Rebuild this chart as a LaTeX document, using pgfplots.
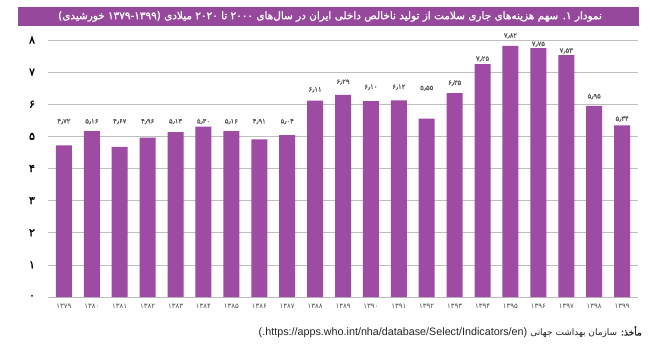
\documentclass[border=0pt]{standalone}
\usepackage{fontspec}
\usepackage{pgfplots}
\pgfplotsset{compat=1.18}
\setmainfont{Liberation Sans}
\newfontfamily\arabicfont[Script=Arabic]{DejaVu Sans}
\newfontfamily\arabicbold[Script=Arabic, FakeBold=1.6]{DejaVu Sans}
\TeXXeTstate=1
\definecolor{barc}{RGB}{158,75,163}
\definecolor{bannerc}{RGB}{150,72,156}
\definecolor{gridc}{RGB}{190,190,190}
\begin{document}
\begin{tikzpicture}[x=1bp,y=1bp]
\path[fill=white] (0,0) rectangle (650,353);
\fill[bannerc] (18,327) rectangle (639,346);
\node[text=white, inner sep=0pt, font=\arabicbold\fontsize{10.5}{12}\selectfont] at (330,336.5) {\beginR نمودار ۱. سهم هزینه‌های جاری سلامت از تولید ناخالص داخلی ایران در سال‌های ۲۰۰۰ تا ۲۰۲۰ میلادی (۱۳۷۹-۱۳۹۹ خورشیدی)\endR};
\begin{axis}[at={(48bp,56bp)}, anchor=south west, width=590bp, height=257bp, scale only axis,
  xmin=-0.57, xmax=20.57, ymin=0, ymax=8, clip=false,
  axis line style={draw=none}, major tick length=0pt,
  ymajorgrids, grid style={gridc, line width=0.7bp},
  ytick={0,1,2,3,4,5,6,7,8},
  yticklabels={۰,۱,۲,۳,۴,۵,۶,۷,۸},
  yticklabel style={font=\arabicbold\fontsize{11}{11}\selectfont, anchor=center, xshift=-16bp},
  xtick={0,1,...,20},
  xticklabels={۱۳۷۹,۱۳۸۰,۱۳۸۱,۱۳۸۲,۱۳۸۳,۱۳۸۴,۱۳۸۵,۱۳۸۶,۱۳۸۷,۱۳۸۸,۱۳۸۹,۱۳۹۰,۱۳۹۱,۱۳۹۲,۱۳۹۳,۱۳۹۴,۱۳۹۵,۱۳۹۶,۱۳۹۷,۱۳۹۸,۱۳۹۹},
  xticklabel style={font=\arabicfont\fontsize{7}{7}\selectfont, text=black!70, anchor=center, yshift=-9bp},
]
\addplot[ybar, bar width=16bp, bar shift=0pt, fill=barc, draw=none] coordinates {
(0,4.72) (1,5.16) (2,4.67) (3,4.96) (4,5.13) (5,5.30) (6,5.16) (7,4.91) (8,5.04) (9,6.11)
(10,6.29) (11,6.10) (12,6.12) (13,5.55) (14,6.35) (15,7.25) (16,7.82) (17,7.75) (18,7.53) (19,5.95) (20,5.34)};
\addplot[draw=none, mark=none, nodes near coords, point meta=explicit symbolic,
  every node near coord/.style={anchor=center, inner sep=0pt, text=black!65, font=\arabicbold\fontsize{6.8}{7}\selectfont}] coordinates {
(0,5.46) [۴٫۷۲] (1,5.46) [۵٫۱۶] (2,5.46) [۴٫۶۷] (3,5.46) [۴٫۹۶] (4,5.46) [۵٫۱۳] (5,5.46) [۵٫۳۰] (6,5.46) [۵٫۱۶] (7,5.46) [۴٫۹۱] (8,5.46) [۵٫۰۴] (9,6.45) [۶٫۱۱]
(10,6.69) [۶٫۲۹] (11,6.53) [۶٫۱۰] (12,6.53) [۶٫۱۲] (13,6.50) [۵٫۵۵] (14,6.66) [۶٫۳۵] (15,7.41) [۷٫۲۵] (16,8.13) [۷٫۸۲] (17,7.87) [۷٫۷۵] (18,7.66) [۷٫۵۳] (19,6.24) [۵٫۹۵] (20,5.54) [۵٫۳۴]};
\end{axis}
\node[anchor=east, inner sep=0pt, font=\fontsize{10.8}{12}\selectfont, text=black!85] at (642,21) {(.https://apps.who.int/nha/database/Select/Indicators/en) {\arabicfont\fontsize{9}{11}\selectfont\beginR{\arabicbold مأخذ:} سازمان بهداشت جهانی\endR}};
\end{tikzpicture}
\end{document}
